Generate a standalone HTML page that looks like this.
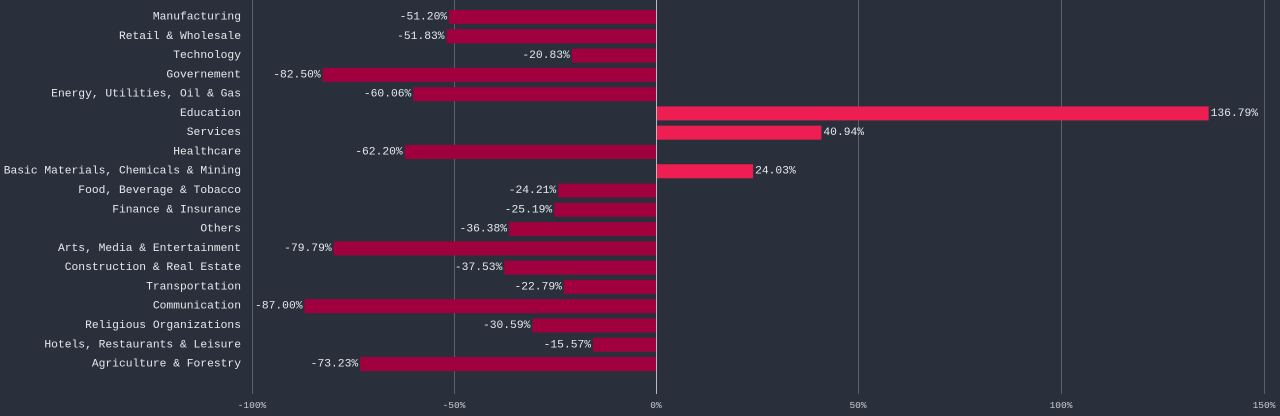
<!DOCTYPE html>
<html><head><meta charset="utf-8"><style>
html,body{margin:0;padding:0;background:#29303c;}
svg{display:block;font-family:"Liberation Mono",monospace;}
</style></head><body>
<svg width="1280" height="416" viewBox="0 0 1280 416">
<rect width="1280" height="416" fill="#29303c"/>
<g stroke="#5a616c" stroke-width="1">
<line x1="252.5" y1="0" x2="252.5" y2="394"/>
<line x1="454.5" y1="0" x2="454.5" y2="394"/>
<line x1="858.5" y1="0" x2="858.5" y2="394"/>
<line x1="1061.5" y1="0" x2="1061.5" y2="394"/>
<line x1="1264.5" y1="0" x2="1264.5" y2="394"/>
</g>
<g font-size="9.5" fill="#c8cbd0" text-anchor="middle">
<text x="252" y="408">-100%</text><text x="454" y="408">-50%</text><text x="656" y="408">0%</text>
<text x="858" y="408">50%</text><text x="1061" y="408">100%</text><text x="1264" y="408">150%</text>
</g>
<g id="bars" font-size="11.3" fill="#e6e8eb"></g>
<line x1="656.5" y1="0" x2="656.5" y2="394" stroke="#b8bcc2" stroke-width="1"/>
</svg>
<script>
var d=[["Manufacturing",-51.20],["Retail & Wholesale",-51.83],["Technology",-20.83],["Governement",-82.50],["Energy, Utilities, Oil & Gas",-60.06],["Education",136.79],["Services",40.94],["Healthcare",-62.20],["Basic Materials, Chemicals & Mining",24.03],["Food, Beverage & Tobacco",-24.21],["Finance & Insurance",-25.19],["Others",-36.38],["Arts, Media & Entertainment",-79.79],["Construction & Real Estate",-37.53],["Transportation",-22.79],["Communication",-87.00],["Religious Organizations",-30.59],["Hotels, Restaurants & Leisure",-15.57],["Agriculture & Forestry",-73.23]];
var g=document.getElementById("bars"),h="";
d.forEach(function(r,i){var c=17+i*19.28,x0=656,x1=656+r[1]*4.04;
var neg=r[1]<0;
h+='<rect x="'+Math.min(x0,x1)+'" y="'+(c-7)+'" width="'+Math.abs(x1-x0)+'" height="14" fill="'+(neg?'#a1003f':'#ee1d52')+'"/>';
h+='<text x="241" y="'+(c+2.5)+'" text-anchor="end">'+r[0].replace(/&/g,"&amp;")+'</text>';
h+='<text x="'+(neg?x1-2:x1+2)+'" y="'+(c+2.5)+'" text-anchor="'+(neg?'end':'start')+'">'+r[1].toFixed(2)+'%</text>';});
g.innerHTML=h;
</script>
</body></html>
